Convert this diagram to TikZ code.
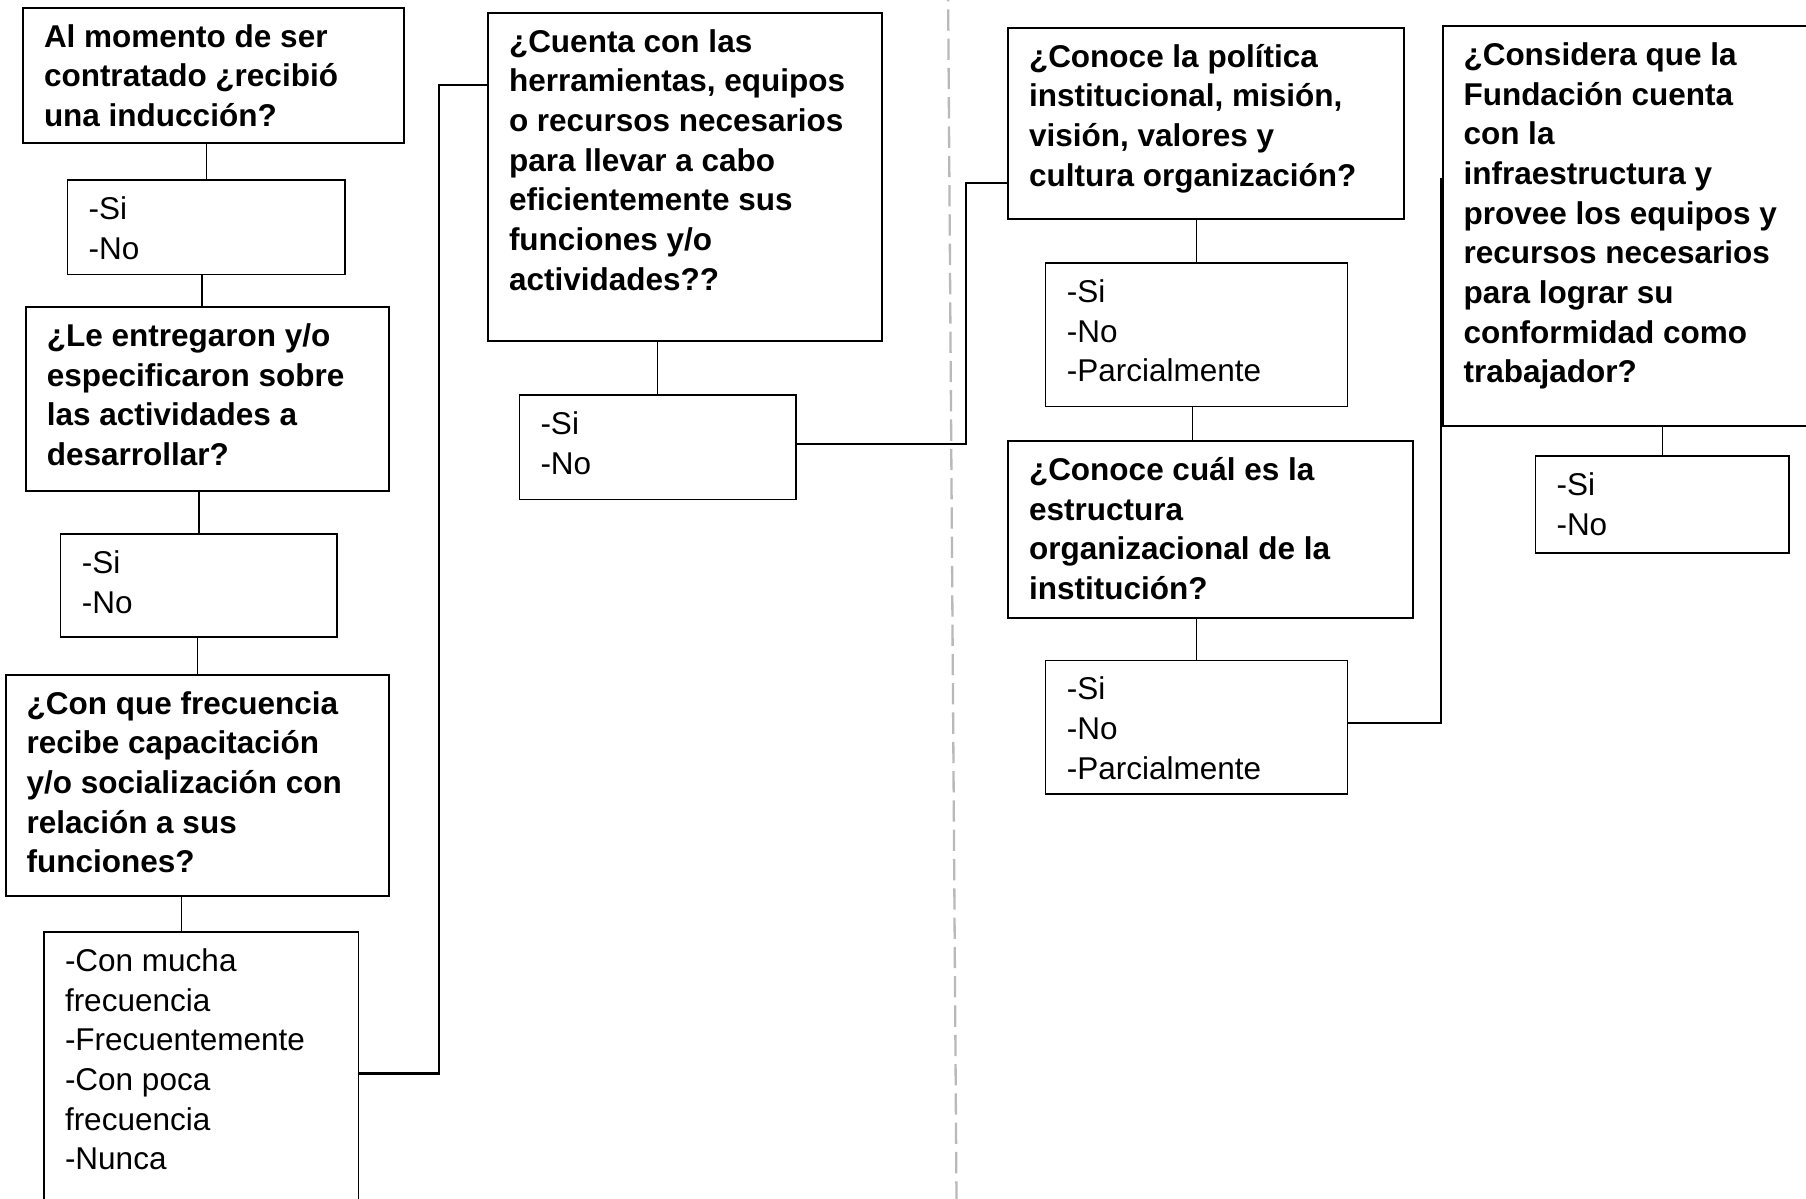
\documentclass[tikz,border=0pt]{standalone}
\usepackage{fontspec}
\setmainfont{Liberation Sans}
\usetikzlibrary{calc}

% one drawing unit = one pixel of a 1806 x 1199 sheet
\newdimen\pxu \pxu=0.5pt
\definecolor{guide}{RGB}{185,185,185}

\tikzset{
  boxbase/.style={draw, anchor=north west, inner sep=0pt, outer sep=0pt},
  question/.style={boxbase, line width=1pt,
    font=\fontsize{15.75pt}{19.85pt}\selectfont\bfseries},
  answer/.style={boxbase, line width=0.65pt,
    font=\fontsize{15.75pt}{19.85pt}\selectfont},
  link/.style={line width=0.6pt},
  jump/.style={line width=1.1pt},
  divider/.style={guide, line width=1.15pt, dash pattern=on 10.65pt off 4pt},
}

% box body: width (px), height (px), text lines; text hangs from the top edge
\newcommand\boxbody[3]{%
  \parbox[t][#2\pxu][t]{#1\pxu}{\raggedright\leftskip=21\pxu
    \rule{0pt}{39.4\pxu}#3\par}}

\begin{document}
\begin{tikzpicture}[x=0.5pt, y=-0.5pt]
\useasboundingbox[fill=white] (0,0) rectangle (1806,1199);

% dashed separator between the two halves
\draw[divider] (948,-20) -- (956.5,1199);

% ---- left column
\node[question] (a) at (23,7.7)
  {\boxbody{380.5}{135}{Al momento de ser\\contratado ¿recibió\\una inducción?}};
\node[answer] (a1) at (67.7,180)
  {\boxbody{277.3}{94.8}{-Si\\-No}};
\node[question] (b) at (25.8,307)
  {\boxbody{363.2}{183.6}{¿Le entregaron y/o\\especificaron sobre\\las actividades a\\desarrollar?}};
\node[answer] (b1) at (60.8,534)
  {\boxbody{276.2}{103}{-Si\\-No}};
\node[question] (c) at (5.7,674.6)
  {\boxbody{383.3}{221.2}{¿Con que frecuencia\\recibe capacitación\\y/o socialización con\\relación a sus\\funciones?}};
\node[answer] (c1) at (44,932)
  {\boxbody{314.3}{290}{-Con mucha\\frecuencia\\-Frecuentemente\\-Con poca\\frecuencia\\-Nunca}};

% ---- second column
\node[question] (d) at (488,12.6)
  {\boxbody{394}{328}{¿Cuenta con las\\herramientas, equipos\\o recursos necesarios\\para llevar a cabo\\eficientemente sus\\funciones y/o\\actividades??}};
\node[answer] (d1) at (519.5,395)
  {\boxbody{276.5}{104.4}{-Si\\-No}};

% ---- third column
\node[question] (e) at (1008,27.6)
  {\boxbody{396}{191.7}{¿Conoce la política\\institucional, misión,\\visión, valores y\\cultura organización?}};
\node[answer] (e1) at (1045.8,263)
  {\boxbody{302}{143.4}{-Si\\-No\\-Parcialmente}};
\node[question] (f) at (1008,441)
  {\boxbody{404.6}{177}{¿Conoce cuál es la\\estructura\\organizacional de la\\institución?}};
\node[answer] (f1) at (1045.8,660.5)
  {\boxbody{302}{133.5}{-Si\\-No\\-Parcialmente}};

% ---- fourth column
\node[question] (g) at (1442.5,26)
  {\boxbody{400}{399.6}{¿Considera que la\\Fundación cuenta\\con la\\infraestructura y\\provee los equipos y\\recursos necesarios\\para lograr su\\conformidad como\\trabajador?}};
\node[answer] (g1) at (1535.5,456)
  {\boxbody{253.5}{97}{-Si\\-No}};

% ---- short links between a question and its answers
\draw[link] (a.south -| a1.north) -- (a1.north);
\path ($(a1.south)+(-4.4,0)$) coordinate (a1b);
\draw[link] (a1b) -- (a1b |- b.north);
\draw[link] (b.south -| b1.north) -- (b1.north);
\draw[link] (b1.south -| c.north) -- (c.north);
\path ($(c1.north)+(-19.75,0)$) coordinate (c1t);
\draw[link] (c.south -| c1t) -- (c1t);
\draw[link] (d.south -| d1.north) -- (d1.north);
\draw[link] (e.south -| e1.north) -- (e1.north);
\path ($(e1.south)+(-4,0)$) coordinate (e1b);
\draw[link] (e1b) -- (e1b |- f.north);
\draw[link] (f.south -| f1.north) -- (f1.north);
\draw[link] (g.south -| g1.north) -- (g1.north);

% ---- elbow links to the next column
\draw[jump] ($(c1.north east)+(0,141.4)$) -- ++(80.7,0) |- ($(d.north west)+(0,72.4)$);
\draw[jump] ($(d1.north east)+(0,49)$) -- ++(170,0) |- ($(e.north west)+(0,155.4)$);
\draw[jump] ($(f1.north east)+(0,62.5)$) -| ($(g.north west)+(-1.2,152)$);
\end{tikzpicture}
\end{document}
